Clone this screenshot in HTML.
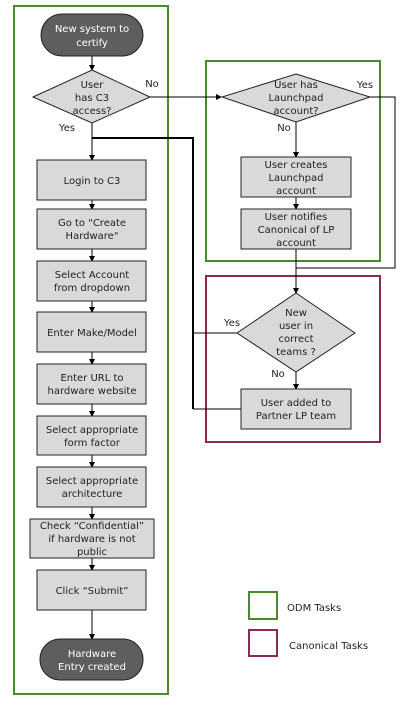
<!DOCTYPE html>
<html><head><meta charset="utf-8"><style>
html,body{margin:0;padding:0;background:#fff}
svg text{font-family:"DejaVu Sans","Liberation Sans",sans-serif;font-size:10px;fill:#222;text-anchor:middle}
</style></head><body>
<svg width="417" height="713" viewBox="0 0 417 713" xmlns="http://www.w3.org/2000/svg">
<defs><marker id="a" markerWidth="6" markerHeight="6" refX="5" refY="3" orient="auto" markerUnits="userSpaceOnUse"><path d="M0,0 L6,3 L0,6 z" fill="#000"/></marker></defs>
<!-- group boxes -->
<rect x="14" y="6" width="154" height="688" fill="none" stroke="#4a8a2a" stroke-width="2"/>
<rect x="206" y="61" width="174" height="200" fill="none" stroke="#4a8a2a" stroke-width="2"/>
<rect x="206" y="276" width="174" height="166" fill="none" stroke="#8a2a5a" stroke-width="2"/>
<!-- connectors -->
<g stroke="#000" stroke-width="1" fill="none">
<line x1="92" y1="56" x2="92" y2="70" marker-end="url(#a)"/>
<line x1="92" y1="123" x2="92" y2="160" marker-end="url(#a)"/>
<line x1="150" y1="97" x2="221" y2="97" marker-end="url(#a)"/>
<line x1="92" y1="200" x2="92" y2="209" marker-end="url(#a)"/>
<line x1="92" y1="249" x2="92" y2="261" marker-end="url(#a)"/>
<line x1="92" y1="301" x2="92" y2="312" marker-end="url(#a)"/>
<line x1="92" y1="352" x2="92" y2="364" marker-end="url(#a)"/>
<line x1="92" y1="404" x2="92" y2="416" marker-end="url(#a)"/>
<line x1="92" y1="455" x2="92" y2="467" marker-end="url(#a)"/>
<line x1="92" y1="507" x2="92" y2="519" marker-end="url(#a)"/>
<line x1="92" y1="558" x2="92" y2="570" marker-end="url(#a)"/>
<line x1="92" y1="610" x2="92" y2="639" marker-end="url(#a)"/>
<line x1="296" y1="122" x2="296" y2="157" marker-end="url(#a)"/>
<line x1="296" y1="197" x2="296" y2="209" marker-end="url(#a)"/>
<polyline points="370,97 395,97 395,268 296,268"/>
<line x1="296" y1="249" x2="296" y2="293" marker-end="url(#a)"/>
<line x1="296" y1="372" x2="296" y2="389" marker-end="url(#a)"/>
<polyline points="237,333 193,333"/>
<polyline points="241,409 193,409"/>
</g>
<polyline points="92,138 193,138 193,409" fill="none" stroke="#000" stroke-width="2"/>
<!-- terminals -->
<rect x="41" y="14" width="102" height="42" rx="21" fill="#5e5e5e" stroke="#222"/>
<text x="92" y="32" style="fill:#fff">New system to</text><text x="92" y="46" style="fill:#fff">certify</text>
<rect x="40" y="639" width="103" height="41" rx="20" fill="#5e5e5e" stroke="#222"/>
<text x="92" y="657" style="fill:#fff">Hardware</text><text x="92" y="670" style="fill:#fff">Entry created</text>
<!-- diamonds -->
<g fill="#d9d9d9" stroke="#222">
<polygon points="92,70 150,97 92,123 33,97"/>
<polygon points="296,74 370,97 296,122 222,97"/>
<polygon points="296,293 355,333 296,372 237,333"/>
</g>
<text x="92" y="88">User</text><text x="92" y="101">has C3</text><text x="92" y="114">access?</text>
<text x="296" y="88">User has</text><text x="296" y="101">Launchpad</text><text x="296" y="114">account?</text>
<text x="296" y="316">New</text><text x="296" y="329">user in</text><text x="296" y="342">correct</text><text x="296" y="355">teams ?</text>
<text x="67" y="131">Yes</text><text x="152" y="87">No</text><text x="365" y="88">Yes</text><text x="284" y="131">No</text>
<text x="232" y="326">Yes</text><text x="278" y="377">No</text>
<!-- process boxes -->
<g fill="#d9d9d9" stroke="#222">
<rect x="37" y="160" width="109" height="40"/>
<rect x="37" y="209" width="109" height="40"/>
<rect x="37" y="261" width="109" height="40"/>
<rect x="37" y="312" width="109" height="40"/>
<rect x="37" y="364" width="109" height="40"/>
<rect x="37" y="416" width="109" height="39"/>
<rect x="37" y="467" width="109" height="40"/>
<rect x="30" y="519" width="124" height="39"/>
<rect x="37" y="570" width="109" height="40"/>
<rect x="241" y="157" width="110" height="40"/>
<rect x="241" y="209" width="110" height="40"/>
<rect x="241" y="389" width="110" height="40"/>
</g>
<text x="92" y="184">Login to C3</text>
<text x="92" y="226">Go to "Create</text><text x="92" y="239">Hardware"</text>
<text x="92" y="278">Select Account</text><text x="92" y="291">from dropdown</text>
<text x="92" y="336">Enter Make/Model</text>
<text x="92" y="381">Enter URL to</text><text x="92" y="394">hardware website</text>
<text x="92" y="433">Select appropriate</text><text x="92" y="446">form factor</text>
<text x="92" y="484">Select appropriate</text><text x="92" y="497">architecture</text>
<text x="92" y="529">Check “Confidential”</text><text x="92" y="542">if hardware is not</text><text x="92" y="555">public</text>
<text x="92" y="594">Click “Submit”</text>
<text x="296" y="168">User creates</text><text x="296" y="181">Launchpad</text><text x="296" y="194">account</text>
<text x="296" y="220">User notifies</text><text x="296" y="233">Canonical of LP</text><text x="296" y="246">account</text>
<text x="296" y="406">User added to</text><text x="296" y="419">Partner LP team</text>
<!-- legend -->
<rect x="249" y="592" width="28" height="27" fill="none" stroke="#4a8a2a" stroke-width="2"/>
<rect x="249" y="630" width="28" height="26" fill="none" stroke="#8a2a5a" stroke-width="2"/>
<text x="287" y="611" style="text-anchor:start">ODM Tasks</text>
<text x="289" y="649" style="text-anchor:start">Canonical Tasks</text>
</svg>
</body></html>
